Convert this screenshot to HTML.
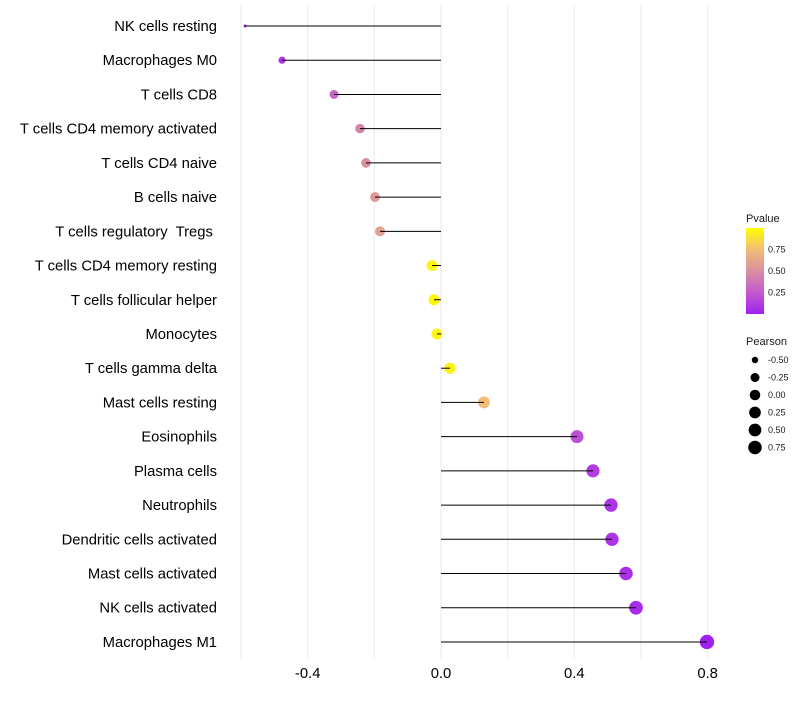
<!DOCTYPE html>
<html><head><meta charset="utf-8"><style>
body{margin:0;background:#fff;font-family:"Liberation Sans",sans-serif}
svg text{font-family:"Liberation Sans",sans-serif}
</style></head><body>
<svg id="chart" width="800" height="700" xmlns="http://www.w3.org/2000/svg">
<g id="grid"></g>
<g id="marks"></g>
<g id="ylabels"></g>
<g id="xticks"></g>
<g id="legend"></g>
</svg>
<script>
const categories=["NK cells resting","Macrophages M0","T cells CD8","T cells CD4 memory activated","T cells CD4 naive","B cells naive","T cells regulatory  Tregs ","T cells CD4 memory resting","T cells follicular helper","Monocytes","T cells gamma delta","Mast cells resting","Eosinophils","Plasma cells","Neutrophils","Dendritic cells activated","Mast cells activated","NK cells activated","Macrophages M1"];
const pearson=[-0.588,-0.477,-0.321,-0.243,-0.225,-0.198,-0.183,-0.027,-0.021,-0.012,0.027,0.129,0.408,0.456,0.51,0.513,0.555,0.585,0.798];
const pvalue=[0.02,0.08,0.3,0.45,0.5,0.55,0.6,0.97,0.97,0.96,0.95,0.75,0.2,0.12,0.08,0.08,0.07,0.05,0.001];
const xTicks=[-0.4,0.0,0.4,0.8];
const xTickLabels=["-0.4","0.0","0.4","0.8"];
const gridVals=[-0.6,-0.4,-0.2,0,0.2,0.4,0.6,0.8];
const legendP=[0.75,0.5,0.25];
const legendR=[-0.5,-0.25,0,0.25,0.5,0.75];

const NS="http://www.w3.org/2000/svg";
const xs=v=>441+v*333.3;
const ys=i=>26+i*34.22;
const rs=p=>1.5+5.7*Math.pow(Math.max(0,(p+0.588)/1.386),0.4);
const stops=[[0,[160,32,240]],[0.25,[196,90,208]],[0.5,[217,143,160]],[0.75,[242,189,117]],[1,[255,255,0]]];
function col(p){for(let k=1;k<stops.length;k++){if(p<=stops[k][0]){const a=stops[k-1],b=stops[k],t=(p-a[0])/(b[0]-a[0]);return 'rgb('+a[1].map((c,j)=>Math.round(c+(b[1][j]-c)*t)).join(',')+')';}}return 'rgb(255,255,0)';}
function mk(tag,attrs,parent){const e=document.createElementNS(NS,tag);for(const k in attrs)e.setAttribute(k,attrs[k]);parent.appendChild(e);return e;}
const grid=document.getElementById('grid'),marks=document.getElementById('marks'),yl=document.getElementById('ylabels'),xt=document.getElementById('xticks'),lg=document.getElementById('legend');
gridVals.forEach(v=>{const l=mk('line',{x1:xs(v),x2:xs(v),y1:5,y2:660,stroke:'#ebebeb','stroke-width':1},grid);

});
categories.forEach((c,i)=>{
 const y=ys(i);
 const cir=mk('circle',{cx:xs(pearson[i]),cy:y,r:rs(pearson[i]),fill:col(pvalue[i])},marks);
 
 
 const ln=mk('line',{x1:xs(0),x2:xs(pearson[i]),y1:y,y2:y,stroke:'#000','stroke-width':1},marks);
 
 
 const t=mk('text',{x:217,y:y+5,'text-anchor':'end','font-size':14.8,fill:'#000'},yl);
 t.style.whiteSpace='pre';
 t.textContent=c;
 
 
});
xTicks.forEach((v,i)=>{const t=mk('text',{x:xs(v),y:678,'text-anchor':'middle','font-size':14.8,fill:'#000'},xt);
t.textContent=xTickLabels[i];

});
let t=mk('text',{x:746,y:222,'font-size':11,fill:'#1a1a1a'},lg);t.textContent='Pvalue';


const defs=mk('defs',{},lg);const gr=mk('linearGradient',{id:'pg',x1:0,y1:1,x2:0,y2:0},defs);
stops.forEach(s=>mk('stop',{offset:s[0],'stop-color':col(s[0])},gr));
const bar=mk('rect',{x:746,y:228,width:18,height:86,fill:'url(#pg)'},lg);


const by=p=>314-p*86/1.0;
legendP.forEach(p=>{const tt=mk('text',{x:768,y:by(p)+3,'font-size':9,fill:'#1a1a1a'},lg);tt.textContent=p.toFixed(2);

});
t=mk('text',{x:746,y:345,'font-size':11,fill:'#1a1a1a'},lg);t.textContent='Pearson';


legendR.forEach((p,i)=>{const y=360+i*17.5;
 const c=mk('circle',{cx:755,cy:y,r:rs(p)*0.95,fill:'#000'},lg);
 
 
 const tt=mk('text',{x:768,y:y+3,'font-size':9,fill:'#1a1a1a'},lg);tt.textContent=p.toFixed(2);
 
 });
</script>
</body></html>
